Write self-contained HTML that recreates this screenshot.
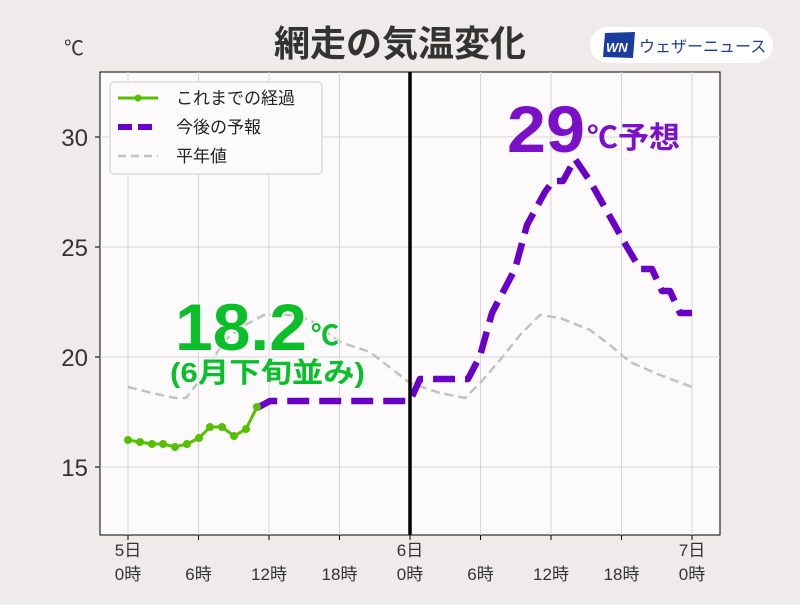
<!DOCTYPE html>
<html><head><meta charset="utf-8"><style>
body{margin:0;width:800px;height:600px;background:#eeebea;overflow:hidden}
text{font-family:"Liberation Sans","Noto Sans CJK JP",sans-serif}
</style></head><body>
<svg width="800" height="600" viewBox="0 0 800 600" xmlns="http://www.w3.org/2000/svg">
<rect x="100" y="72" width="620" height="463" fill="#fcfafb" stroke="#000" stroke-width="1"/>
<g stroke="#d6d4d6" stroke-width="1">
<line x1="100" y1="137" x2="720" y2="137"/><line x1="100" y1="247" x2="720" y2="247"/>
<line x1="100" y1="357" x2="720" y2="357"/><line x1="100" y1="467" x2="720" y2="467"/>
<line x1="128" y1="72" x2="128" y2="535"/><line x1="198.5" y1="72" x2="198.5" y2="535"/>
<line x1="269" y1="72" x2="269" y2="535"/><line x1="339.5" y1="72" x2="339.5" y2="535"/>
<line x1="480.5" y1="72" x2="480.5" y2="535"/><line x1="551" y1="72" x2="551" y2="535"/>
<line x1="621.5" y1="72" x2="621.5" y2="535"/><line x1="692" y1="72" x2="692" y2="535"/>
</g>
<g stroke="#000" stroke-width="1">
<line x1="100" y1="137" x2="95" y2="137"/><line x1="100" y1="247" x2="95" y2="247"/><line x1="100" y1="357" x2="95" y2="357"/><line x1="100" y1="467" x2="95" y2="467"/>
<line x1="128" y1="535" x2="128" y2="540"/><line x1="198.5" y1="535" x2="198.5" y2="540"/><line x1="269" y1="535" x2="269" y2="540"/><line x1="339.5" y1="535" x2="339.5" y2="540"/><line x1="410" y1="535" x2="410" y2="540"/><line x1="480.5" y1="535" x2="480.5" y2="540"/><line x1="551" y1="535" x2="551" y2="540"/><line x1="621.5" y1="535" x2="621.5" y2="540"/><line x1="692" y1="535" x2="692" y2="540"/>
</g>
<polyline fill="none" stroke="#c3c1c3" stroke-width="2.5" stroke-dasharray="9,5" points="128,387 152,393 175,398 186,398 200,380 225,340 245,325 264,315 290,315 310,320 340,342 370,352 410,383 440,393 465,398 480,383 500,360 520,335 540,315 560,318 590,330 610,345 630,362 660,375 692,387"/>
<polyline fill="none" stroke="#6a00c8" stroke-width="6.5" stroke-dasharray="22,10" stroke-linejoin="round" points="257,408 270,401 410,401 420,379 468,379 480,356 492,313 515,269 527,225 545,192 553,181 563,181 575,159 590,181 627,247 640,269 652,269 662,291 670,291 680,313 692,313"/>
<g fill="#55bf00"><polyline fill="none" stroke="#55bf00" stroke-width="3" points="128,440 140,442 152,444 163,444 175,447 187,444 199,438 210,427 222,427 234,436 246,429 257,407"/>
<circle cx="128" cy="440" r="4"/><circle cx="140" cy="442" r="4"/><circle cx="152" cy="444" r="4"/><circle cx="163" cy="444" r="4"/><circle cx="175" cy="447" r="4"/><circle cx="187" cy="444" r="4"/><circle cx="199" cy="438" r="4"/><circle cx="210" cy="427" r="4"/><circle cx="222" cy="427" r="4"/><circle cx="234" cy="436" r="4"/><circle cx="246" cy="429" r="4"/><circle cx="257" cy="407" r="4"/></g>
<line x1="410" y1="72" x2="410" y2="535" stroke="#000" stroke-width="3.5"/>
<g font-size="24" fill="#333" text-anchor="end"><text x="88" y="146">30</text><text x="88" y="256">25</text><text x="88" y="366">20</text><text x="88" y="476">15</text></g>
<text x="64" y="55" font-size="20" fill="#333">℃</text>
<g font-size="17" fill="#333" text-anchor="middle">
<text x="128" y="556">5日</text><text x="128" y="580">0時</text>
<text x="198.5" y="580">6時</text><text x="269" y="580">12時</text><text x="339.5" y="580">18時</text>
<text x="410" y="556">6日</text><text x="410" y="580">0時</text>
<text x="480.5" y="580">6時</text><text x="551" y="580">12時</text><text x="621.5" y="580">18時</text>
<text x="692" y="556">7日</text><text x="692" y="580">0時</text></g>
<text x="400" y="56" font-size="36" font-weight="bold" fill="#333" text-anchor="middle">網走の気温変化</text>
<rect x="590" y="27" width="183" height="36" rx="18" fill="#fff"/>
<polygon points="605,33 635,32 633,58 603,57" fill="#1a3c9c"/>
<text x="606" y="52" font-size="13" font-style="italic" font-weight="bold" fill="#fff">WN</text>
<text x="639" y="52" font-size="16" fill="#1a3c9c">ウェザーニュース</text>
<rect x="110" y="82" width="212" height="92" rx="4" fill="#fcfafb" stroke="#ccc"/>
<line x1="118" y1="98" x2="158" y2="98" stroke="#55bf00" stroke-width="3"/><circle cx="138" cy="98" r="3.5" fill="#55bf00"/>
<line x1="118" y1="127" x2="158" y2="127" stroke="#6a00c8" stroke-width="6" stroke-dasharray="14,6"/>
<line x1="118" y1="156" x2="158" y2="156" stroke="#c3c1c3" stroke-width="2.5" stroke-dasharray="8,5"/>
<g font-size="17" fill="#222"><text x="176" y="104">これまでの経過</text><text x="176" y="133">今後の予報</text><text x="176" y="162">平年値</text></g>
<text x="175" y="350" font-size="66" font-weight="bold" fill="#0bbf2a" stroke="#fff" stroke-width="3" paint-order="stroke" textLength="132" lengthAdjust="spacingAndGlyphs">18.2</text>
<text x="311" y="345" font-size="28" font-weight="bold" fill="#0bbf2a" stroke="#fff" stroke-width="2" paint-order="stroke">℃</text>
<text x="170" y="382" font-size="28" font-weight="bold" fill="#0bbf2a" stroke="#fff" stroke-width="3" paint-order="stroke" textLength="195" lengthAdjust="spacingAndGlyphs">(6月下旬並み)</text>
<text x="507" y="152" font-size="66" font-weight="bold" fill="#7a10c8" textLength="78" lengthAdjust="spacingAndGlyphs">29</text>
<text x="587" y="148" font-size="30" font-weight="bold" fill="#7a10c8" textLength="93" lengthAdjust="spacingAndGlyphs">℃予想</text>
</svg>
</body></html>
